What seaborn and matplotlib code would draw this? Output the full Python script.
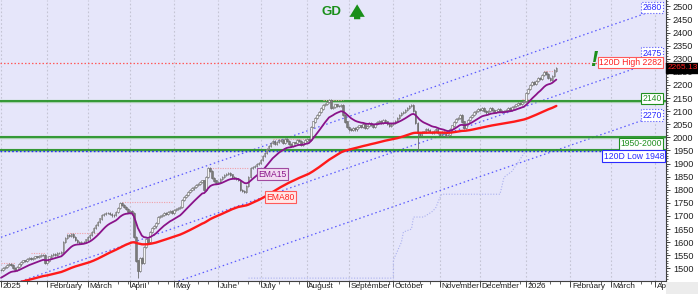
import numpy as np
import pandas as pd
import matplotlib
matplotlib.use("Agg")
import matplotlib.pyplot as plt
import seaborn as sns
from matplotlib.patches import Rectangle

# ---------------- data ----------------
closes = [
    1494, 1500, 1506, 1512, 1515, 1513, 1500, 1494, 1505, 1515,
    1524, 1530, 1528, 1535, 1540, 1537, 1539, 1545, 1542, 1548,
    1550, 1551, 1520, 1530, 1545, 1551, 1555, 1552, 1558, 1560,
    1562, 1600, 1615, 1627, 1625, 1631, 1620, 1608, 1600, 1596,
    1600, 1600, 1610, 1618, 1627, 1640, 1654, 1665, 1677, 1690,
    1703, 1708, 1712, 1711, 1706, 1702, 1703, 1715, 1730, 1749,
    1741, 1735, 1725, 1715, 1720, 1710, 1620, 1530, 1490, 1540,
    1520, 1580, 1610, 1600, 1640, 1654, 1660, 1672, 1696, 1700,
    1705, 1712, 1708, 1715, 1718, 1712, 1722, 1725, 1730, 1735,
    1760, 1772, 1780, 1790, 1798, 1805, 1810, 1818, 1822, 1829,
    1835, 1799, 1850, 1882, 1870, 1845, 1835, 1825, 1830, 1840,
    1848, 1855, 1860, 1863, 1858, 1850, 1845, 1840, 1837, 1799,
    1795, 1791, 1815, 1850, 1882, 1888, 1892, 1898, 1901, 1915,
    1928, 1940, 1955, 1968, 1978, 1985, 1975, 1982, 1988, 1989,
    1980, 1992, 1985, 1975, 1968, 1980, 1978, 1990, 1985, 1972,
    1980, 1988, 1992, 1989, 2039, 2060, 2075, 2085, 2096, 2110,
    2122, 2128, 2134, 2142, 2111, 2115, 2125, 2120, 2118, 2123,
    2084, 2060, 2039, 2030, 2027, 2035, 2030, 2039, 2045, 2040,
    2050, 2035, 2042, 2055, 2046, 2040, 2050, 2058, 2062, 2055,
    2065, 2060, 2050, 2045, 2052, 2054, 2062, 2075, 2085, 2092,
    2098, 2105, 2112, 2118, 2123, 2100, 2054, 2016, 2010, 2020,
    2022, 2030, 2027, 2020, 2015, 2025, 2030, 2016, 2010, 2020,
    2015, 2005, 2008, 2030, 2045, 2058, 2070, 2075, 2084, 2060,
    2035, 2050, 2065, 2078, 2084, 2095, 2100, 2108, 2105, 2111,
    2100, 2095, 2100, 2110, 2104, 2098, 2102, 2108, 2100, 2096,
    2100, 2105, 2110, 2104, 2115, 2120, 2125, 2130, 2128, 2134,
    2140, 2168, 2185, 2200, 2210, 2205, 2215, 2226, 2222, 2238,
    2250, 2240, 2225, 2218, 2235, 2255, 2265.13,
]
extra_lows = {68: 1463, 207: 1948}
ema15_seed = 1460
ema80_seed = 1430

# horizontal levels
green_levels = [2140, 2000, 1952]
high_120d = 2282
low_120d = 1948

# parallel channel lines: (start idx, start value, end idx, end value)
channel_lines = [
    (0, 1619, 329, 2496),
    (0, 1425, 329, 2300),
    (0, 1217, 329, 2092),
]

# faint 120-day low trail
trail_x = [123, 195, 195, 199, 200, 204, 205, 210, 214, 216, 218, 219, 248, 250, 254, 261]
trail_y = [1463, 1463, 1532, 1600, 1639, 1650, 1696, 1696, 1715, 1730, 1768, 1783, 1783, 1848, 1871, 1951]

# short resistance markers (start idx, end idx, level)
resist = [(0, 7, 1520), (15, 22, 1558), (33, 48, 1635), (60, 85, 1753),
          (104, 123, 1882), (135, 153, 1992), (160, 170, 2142),
          (259, 263, 2145), (270, 275, 2255)]

yticks = list(range(1500, 2501, 50))

# ---------------- figure ----------------
sns.set_style("white")
plt.rcParams["font.family"] = ["Liberation Sans", "DejaVu Sans"]

W, H = 698, 294
fig = plt.figure(figsize=(W / 100, H / 100), dpi=100)
fig.patch.set_facecolor("white")
ax = fig.add_axes([0, 13 / H, 666 / W, 281 / H])
ax.set_facecolor("#E6E6FA")

n = len(closes)
idx = np.arange(n)
c = np.array(closes, dtype=float)
o = np.concatenate([[c[0]], c[:-1]])
wick = 4.0
hi = np.maximum(o, c) + wick
lo = np.minimum(o, c) - wick
for k, v in extra_lows.items():
    lo[k] = v

# EMAs via pandas
ema15 = pd.Series([ema15_seed] + closes).ewm(span=15, adjust=False).mean().values[1:]
ema80 = pd.Series([ema80_seed] + closes).ewm(span=80, adjust=False).mean().values[1:]

# month grid
dates = pd.bdate_range("2025-01-01", periods=340)
month_idx = [i for i in range(len(dates)) if i == 0 or dates[i].month != dates[i - 1].month]
month_idx = [i for i in month_idx if i <= 331]
mnames = {1: "January", 2: "February", 3: "March", 4: "April", 5: "May", 6: "June",
          7: "July", 8: "August", 9: "September", 10: "October", 11: "November", 12: "December"}
for i in month_idx:
    ax.axvline(i, color="#c4c4d4", lw=0.8, ls=(0, (1.5, 2)), zorder=0.5)

# channels
for (x0, y0, x1, y1) in channel_lines:
    sns.lineplot(x=[x0, x1], y=[y0, y1], ax=ax, color="#5a5aff", lw=0.9,
                 linestyle=(0, (1.2, 2.2)), zorder=1)

# trail
ax.plot(trail_x, trail_y, color="#aab0ee", lw=0.8, ls=(0, (1, 1.5)), zorder=1)

# levels
for lv in green_levels:
    ax.axhline(lv, color="#7fbf7f", lw=2.4, zorder=1.5, alpha=0.6)
    ax.axhline(lv, color="#1f8f1f", lw=1.2, zorder=1.6)
ax.axhline(high_120d, color="#ff5a5a", lw=0.9, ls=(0, (1.2, 1.6)), zorder=1.6)
ax.axhline(low_120d, color="#2a2aff", lw=1.0, ls=(0, (1.2, 1.6)), zorder=1.7)

for (a, b, lv) in resist:
    ax.plot([a, b], [lv, lv], color="#f0a0a8", lw=0.8, ls=(0, (1, 1.2)), zorder=1.8)

# EMAs
sns.lineplot(x=idx, y=ema80, ax=ax, color="#ff1a1a", lw=1.7, zorder=3)
sns.lineplot(x=idx, y=ema15, ax=ax, color="#8a138a", lw=1.3, zorder=3.2)

# candles
ax.vlines(idx, lo, hi, color="#6a6a6a", lw=0.6, zorder=2.5)
up = c >= o
ax.bar(idx[up], (c - o)[up] + 0.5, bottom=o[up], width=0.8, color="#f4f4f4",
       edgecolor="#6a6a6a", linewidth=0.4, zorder=2.6)
ax.bar(idx[~up], (o - c)[~up] + 0.5, bottom=c[~up], width=0.8, color="#7a7a7a",
       edgecolor="#6a6a6a", linewidth=0.4, zorder=2.6)

ax.set_xlim(-0.5, 330.5)
ax.set_ylim(1452, 2524)

# axes styling
ax.yaxis.tick_right()
ax.set_yticks(yticks)
ax.set_yticklabels([str(t) for t in yticks], fontsize=6.6, color="#202020")
ax.set_yticks(list(range(1460, 2521, 10)), minor=True)
ax.tick_params(axis="y", which="major", length=3, width=0.6, pad=2, right=True, left=False)
ax.tick_params(axis="y", which="minor", length=1.5, width=0.5, right=True, left=False)
ax.set_xticks(month_idx)
ax.set_xticklabels([])
mondays = [i for i in range(len(dates)) if dates[i].weekday() == 0 and i <= 331]
ax.set_xticks(mondays, minor=True)
ax.tick_params(axis="x", which="major", length=4, width=0.6, bottom=True)
ax.tick_params(axis="x", which="minor", length=2, width=0.5, bottom=True)
for s in ["top", "left"]:
    ax.spines[s].set_visible(False)
ax.spines["right"].set_color("#404040")
ax.spines["bottom"].set_color("#404040")
ax.spines["right"].set_linewidth(0.8)
ax.spines["bottom"].set_linewidth(0.8)
ax.set_xlabel("")
ax.set_ylabel("")

trans = ax.get_xaxis_transform()
for i in month_idx:
    d = dates[i]
    if d.month == 1:
        lab = str(d.year)
    elif d.year == 2026 and d.month == 4:
        lab = "Ap"
    else:
        lab = mnames[d.month]
    ax.text(i + 0.8, -0.008, lab, transform=trans, ha="left", va="top",
            fontsize=5.95, color="#202020", clip_on=False)

# gray corner
fig.patches.append(Rectangle((666 / W, 0), 1 - 666 / W, 12 / H, transform=fig.transFigure,
                             facecolor="#ececec", edgecolor="none", zorder=0))

# labels
def boxlabel(x, y, s, tc, ec, fc="white", ls="-", ha="right"):
    ax.text(x, y, s, color=tc, fontsize=6.2, ha=ha, va="center", zorder=6,
            bbox=dict(boxstyle="square,pad=0.15", fc=fc, ec=ec, lw=0.8, ls=ls))

boxlabel(328.5, 2496, "2680", "#2a2aff", "#5a5aff", ls=":")
boxlabel(328.5, 2321, "2475", "#2a2aff", "#5a5aff", ls=":")
boxlabel(328.5, 2285, "120D High 2282", "#ff2020", "#ff5a5a")
boxlabel(328.5, 2148, "2140", "#1f8f1f", "#1f8f1f")
boxlabel(328.5, 2085, "2270", "#2a2aff", "#5a5aff", ls=":")
boxlabel(328.5, 1975, "1950-2000", "#1f8f1f", "#1f8f1f")
boxlabel(329.6, 1928, "120D Low 1948", "#2a2aff", "#2a2aff")
boxlabel(128, 1860, "EMA15", "#8a138a", "#a04aa0", fc="#f2dcf2", ha="left")
boxlabel(132, 1772, "EMA80", "#ff2020", "#ff5a5a", fc="#ffe8e8", ha="left")

ax.text(164, 2478, "GD", color="#1a8f1a", fontsize=9.5, fontweight="bold",
        ha="center", va="center")
ax.annotate("", xy=(177, 2518), xytext=(177, 2440),
            arrowprops=dict(arrowstyle="simple,head_width=1.1,head_length=0.9,tail_width=0.45",
                            mutation_scale=10, color="#1a8f1a", lw=0))
ax.text(294.5, 2292, "!", color="#1a8f1a", fontsize=16, fontweight="bold",
        fontstyle="italic", ha="center", va="center", zorder=7)

ax.annotate("2265.13", xy=(1.0, 2265.13), xycoords=("axes fraction", "data"),
            xytext=(1.5, 0), textcoords="offset points", ha="left", va="center",
            fontsize=6.0, color="#ff2020", zorder=10, annotation_clip=False,
            bbox=dict(boxstyle="square,pad=0.2", fc="black", ec="black"))

fig.savefig("out.png", dpi=100)
